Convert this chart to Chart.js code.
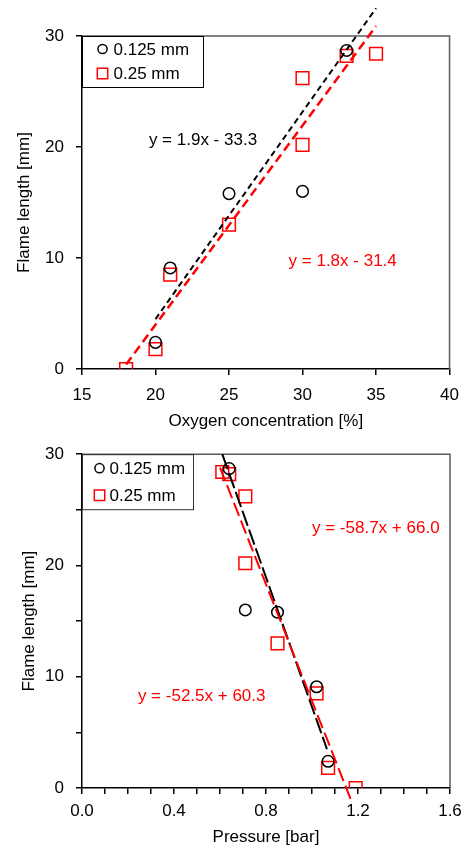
<!DOCTYPE html>
<html>
<head>
<meta charset="utf-8">
<script src="https://cdn.jsdelivr.net/npm/chart.js@4.4.0/dist/chart.umd.min.js"></script>
<style>
html, body { margin: 0; padding: 0; background: #fff; }
body { width: 469px; height: 852px; position: relative; overflow: hidden; }
canvas { position: absolute; left: 0; }
#oxygenChart { top: 0; }
#pressureChart { top: 432px; }
</style>
</head>
<body>
<canvas id="oxygenChart" width="469" height="440"></canvas>
<canvas id="pressureChart" width="469" height="420"></canvas>
<script>
const FONT = "'Liberation Sans', Arial, sans-serif";
const FSIZE = 17;

// Top chart: flame length vs oxygen concentration
const oxyX125 = [20, 21, 25, 30, 33];
const oxyY125 = [2.4, 9.1, 15.8, 16.0, 28.7];
const oxyX25 = [18, 20, 21, 25, 30, 30, 33, 35];
const oxyY25 = [0, 1.8, 8.5, 13.0, 26.2, 20.2, 28.2, 28.4];
const oxyFitX125 = [20, 35];
const oxyFitY125 = [4.5, 32.5];
const oxyFitX25 = [18, 35];
const oxyFitY25 = [0.4, 30.9];

// Bottom chart: flame length vs pressure
const presX125 = [0.64, 0.71, 0.85, 1.02, 1.07];
const presY125 = [28.7, 16.0, 15.8, 9.1, 2.4];
const presX25 = [0.61, 0.64, 0.71, 0.71, 0.85, 1.02, 1.07, 1.19];
const presY25 = [28.4, 28.2, 26.2, 20.2, 13.0, 8.5, 1.8, 0];
const presFitX125 = [0.61, 1.065];
const presFitY125 = [30, 3.5];
const presFitX25 = [0.6, 1.17];
const presFitY25 = [28.8, -1.1];

const seriesNames = ['0.125 mm', '0.25 mm'];

function pts(xs, ys) {
    return xs.map((x, i) => ({ x: x, y: ys[i] }));
}

// box around the plot area (top and right sides)
const framePlugin = {
    id: 'frame',
    beforeDatasetsDraw(chart) {
        const a = chart.chartArea, c = chart.ctx;
        c.save();
        c.strokeStyle = '#5a5a5a';
        c.lineWidth = 1.5;
        c.beginPath();
        c.moveTo(a.left, a.top);
        c.lineTo(a.right, a.top);
        c.lineTo(a.right, a.bottom);
        c.stroke();
        c.restore();
    }
};

// legend drawn inside the plot, top-left corner
const boxLegend = {
    id: 'boxLegend',
    afterDatasetsDraw(chart, args, opts) {
        const a = chart.chartArea, c = chart.ctx;
        const sets = chart.data.datasets.filter(d => !d.showLine);
        c.save();
        c.strokeStyle = opts.borderColor;
        c.lineWidth = 1;
        c.strokeRect(a.left + 0.5, a.top + 0.5, opts.width, opts.height);
        c.font = FSIZE + 'px ' + FONT;
        c.textBaseline = 'middle';
        c.textAlign = 'left';
        sets.forEach((d, i) => {
            const mx = a.left + opts.markerX, my = a.top + opts.rowY[i];
            c.strokeStyle = d.borderColor;
            c.lineWidth = 1.5;
            c.beginPath();
            if (d.pointStyle === 'rect') {
                c.rect(mx - 5.2, my - 5.2, 10.4, 10.4);
            } else {
                c.arc(mx, my, 4.6, 0, Math.PI * 2);
            }
            c.stroke();
            c.fillStyle = '#000';
            c.fillText(d.label, a.left + opts.textX, my + 1);
        });
        c.restore();
    }
};

// regression equations written on the plot
const eqLabels = {
    id: 'eqLabels',
    afterDatasetsDraw(chart, args, opts) {
        const xs = chart.scales.x, ys = chart.scales.y, c = chart.ctx;
        c.save();
        c.font = FSIZE + 'px ' + FONT;
        c.textBaseline = 'middle';
        c.textAlign = 'left';
        opts.items.forEach(it => {
            c.fillStyle = it.color;
            c.fillText(it.text, xs.getPixelForValue(it.x), ys.getPixelForValue(it.y));
        });
        c.restore();
    }
};

function makeDatasets(x125, y125, x25, y25, fx125, fy125, fx25, fy25, dashBlack, dashRed, redWidth) {
    return [
        {
            label: 'fit 0.25', data: pts(fx25, fy25), showLine: true, pointRadius: 0,
            borderColor: '#ff0000', borderWidth: redWidth, borderDash: dashRed, clip: false
        },
        {
            label: 'fit 0.125', data: pts(fx125, fy125), showLine: true, pointRadius: 0,
            borderColor: '#000', borderWidth: 2, borderDash: dashBlack, clip: false
        },
        {
            label: seriesNames[0], data: pts(x125, y125), pointStyle: 'circle', pointRadius: 5.8,
            borderColor: '#000', backgroundColor: 'rgba(0,0,0,0)', borderWidth: 1.5
        },
        {
            label: seriesNames[1], data: pts(x25, y25), pointStyle: 'rect', pointRadius: 9,
            borderColor: '#ff0000', backgroundColor: 'rgba(0,0,0,0)', borderWidth: 1.5
        }
    ];
}

function axisCommon() {
    return {
        grid: { drawOnChartArea: false, drawTicks: true, tickLength: 6, color: '#000', lineWidth: 1.5 },
        border: { color: '#000', width: 1.5 },
        ticks: { color: '#000', font: { family: FONT, size: FSIZE }, autoSkip: false, maxRotation: 0 }
    };
}

// ---- top chart ----
const oxyXAxis = axisCommon();
oxyXAxis.min = 15; oxyXAxis.max = 40;
oxyXAxis.ticks.stepSize = 5;
oxyXAxis.ticks.padding = 10;
oxyXAxis.title = { display: true, text: 'Oxygen concentration [%]', color: '#000',
    font: { family: FONT, size: FSIZE }, padding: { bottom: 8 } };
oxyXAxis.afterFit = s => { s.height = 71; };

const oxyYAxis = axisCommon();
oxyYAxis.min = 0; oxyYAxis.max = 30;
oxyYAxis.ticks.stepSize = 10;
oxyYAxis.ticks.padding = 12;
oxyYAxis.title = { display: true, text: 'Flame length [mm]', color: '#000',
    font: { family: FONT, size: FSIZE }, padding: { top: 14 } };
oxyYAxis.afterFit = s => { s.width = 82; };

new Chart(document.getElementById('oxygenChart'), {
    type: 'scatter',
    data: { datasets: makeDatasets(oxyX125, oxyY125, oxyX25, oxyY25,
        oxyFitX125, oxyFitY125, oxyFitX25, oxyFitY25, [6, 4], [9, 5], 2.5) },
    options: {
        responsive: false,
        animation: false,
        devicePixelRatio: 1,
        layout: { padding: { left: 0, right: 13, top: 36, bottom: 0 } },
        scales: { x: oxyXAxis, y: oxyYAxis },
        plugins: {
            legend: { display: false },
            tooltip: { enabled: false },
            boxLegend: { width: 121, height: 51, markerX: 20.5, textX: 31.5, rowY: [13, 37.5], borderColor: '#000' },
            eqLabels: { items: [
                { text: 'y = 1.9x - 33.3', x: 19.55, y: 20.6, color: '#000' },
                { text: 'y = 1.8x - 31.4', x: 29.05, y: 9.7, color: '#ff0000' }
            ] }
        }
    },
    plugins: [framePlugin, boxLegend, eqLabels]
});

// ---- bottom chart ----
const presXAxis = axisCommon();
presXAxis.min = 0; presXAxis.max = 1.6;
presXAxis.ticks.stepSize = 0.1;
presXAxis.ticks.padding = 7;
presXAxis.ticks.callback = v => {
    const k = Math.round(v * 10);
    return k % 4 === 0 ? (k / 10).toFixed(1) : '';
};
presXAxis.title = { display: true, text: 'Pressure [bar]', color: '#000',
    font: { family: FONT, size: FSIZE }, padding: { bottom: 4 } };
presXAxis.afterFit = s => { s.height = 64; };

const presYAxis = axisCommon();
presYAxis.min = 0; presYAxis.max = 30;
presYAxis.ticks.stepSize = 5;
presYAxis.ticks.padding = 12;
presYAxis.ticks.callback = v => (v % 10 === 0 ? v : '');
presYAxis.title = { display: true, text: 'Flame length [mm]', color: '#000',
    font: { family: FONT, size: FSIZE }, padding: { top: 19 } };
presYAxis.afterFit = s => { s.width = 82; };

new Chart(document.getElementById('pressureChart'), {
    type: 'scatter',
    data: { datasets: makeDatasets(presX125, presY125, presX25, presY25,
        presFitX125, presFitY125, presFitX25, presFitY25, [16, 4], [14, 5], 2) },
    options: {
        responsive: false,
        animation: false,
        devicePixelRatio: 1,
        layout: { padding: { left: 0, right: 19, top: 21, bottom: 0 } },
        scales: { x: presXAxis, y: presYAxis },
        plugins: {
            legend: { display: false },
            tooltip: { enabled: false },
            boxLegend: { width: 111, height: 55, markerX: 17.5, textX: 27.5, rowY: [14, 41], borderColor: '#333' },
            eqLabels: { items: [
                { text: 'y = -58.7x + 66.0', x: 1.0, y: 23.3, color: '#ff0000' },
                { text: 'y = -52.5x + 60.3', x: 0.243, y: 8.2, color: '#ff0000' }
            ] }
        }
    },
    plugins: [framePlugin, boxLegend, eqLabels]
});
</script>
</body>
</html>
